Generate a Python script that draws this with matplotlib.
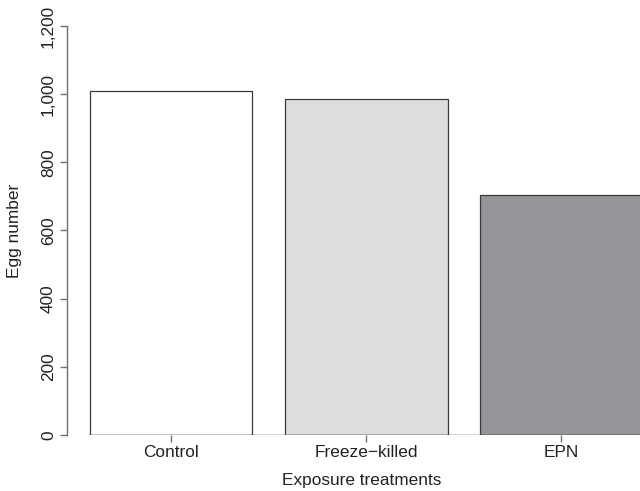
import matplotlib
matplotlib.use('Agg')
import matplotlib.pyplot as plt
from matplotlib.ticker import FuncFormatter

# bar data
treatments = ['Control', 'Freeze\u2212killed', 'EPN']
egg_counts = [1009, 987, 704]
bar_colors = ['#ffffff', '#dcdddf', '#939598']
y_ticks = [0, 200, 400, 600, 800, 1000, 1200]

plt.rcParams['font.family'] = ['Liberation Sans', 'DejaVu Sans']
fs = 12.4

# R barplot positions: width 1, space 0.2
centers = [0.7 + 1.2 * i for i in range(len(treatments))]

fig = plt.figure(figsize=(6.4, 4.91), dpi=100)
ax = fig.add_axes([67 / 640, 56 / 491, 573 / 640, 409 / 491])

ax.bar(centers, egg_counts, width=1.0, color=bar_colors,
       edgecolor='#3a3a3a', linewidth=0.9, zorder=2)
ax.hlines(0, 0.2, 4.0, color='#2a2a2a', linewidth=1.0, zorder=3)

ax.set_xlim(0.061, 3.583)
ax.set_ylim(0, 1200)

for side in ['top', 'right', 'bottom']:
    ax.spines[side].set_visible(False)
ax.spines['left'].set_bounds(0, 1200)
ax.spines['left'].set_color('#707070')
ax.spines['left'].set_linewidth(1.0)

ax.set_yticks(y_ticks)
ax.yaxis.set_major_formatter(FuncFormatter(lambda v, p: '{:,}'.format(int(v))))
ax.tick_params(axis='y', direction='out', length=5, width=1.0, color='#707070',
               pad=3, labelsize=fs, labelcolor='#222222')
for lab in ax.get_yticklabels():
    lab.set_rotation(90)
    lab.set_va('center')

ax.set_xticks(centers)
ax.set_xticklabels(treatments)
ax.tick_params(axis='x', direction='out', length=5, width=1.0, color='#707070',
               pad=2.5, labelsize=fs, labelcolor='#222222')

ax.set_xlabel('Exposure treatments', fontsize=fs, color='#222222')
ax.xaxis.set_label_coords(0.515, -0.092)
ax.set_ylabel('Egg number', fontsize=fs, color='#222222')
ax.yaxis.set_label_coords(-0.079, 0.5)

fig.savefig('out.png', dpi=100)
